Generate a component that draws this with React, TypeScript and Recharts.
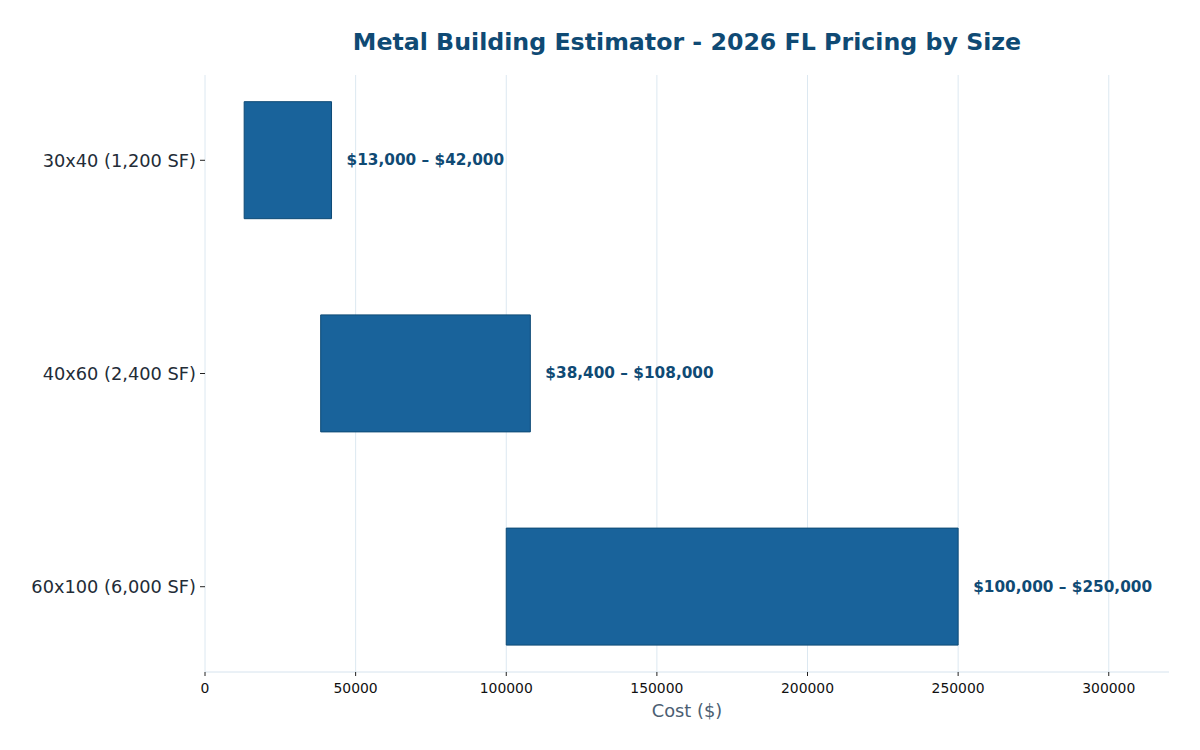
import React from "react";
import {
  BarChart,
  Bar,
  XAxis,
  YAxis,
  CartesianGrid,
  LabelList,
} from "recharts";

// Building sizes and their estimated cost ranges (USD)
const sizes = ["30x40 (1,200 SF)", "40x60 (2,400 SF)", "60x100 (6,000 SF)"];
const lowCost = [13000, 38400, 100000];
const highCost = [42000, 108000, 250000];
const costTicks = [0, 50000, 100000, 150000, 200000, 250000, 300000];

const money = (v: number) => "$" + v.toLocaleString("en-US");

const data = sizes.map((name, i) => ({
  idx: i,
  name,
  range: [lowCost[i], highCost[i]],
  label: `${money(lowCost[i])} – ${money(highCost[i])}`,
}));

const FONT = "'DejaVu Sans', sans-serif";
const NAVY = "#0f4a74";

const RangeLabel = (props: any) => {
  const { x, y, width, height, value } = props;
  return (
    <text
      x={Number(x) + Number(width) + 15}
      y={Number(y) + Number(height) / 2}
      dominantBaseline="central"
      fontFamily={FONT}
      fontWeight="bold"
      fontSize={15.3}
      fill={NAVY}
    >
      {value}
    </text>
  );
};

// vertical grid lines only at the labelled cost ticks
const gridAtTicks = (props: any) => {
  const scale = props?.xAxis?.scale;
  if (typeof scale === "function") return costTicks.map((t) => scale(t));
  if (scale && typeof scale.map === "function") return costTicks.map((t) => scale.map(t));
  return [];
};

export default function App() {
  return (
    <div
      style={{
        position: "absolute",
        left: 0,
        top: 0,
        width: 1200,
        height: 750,
        background: "#ffffff",
        fontFamily: FONT,
      }}
    >
      <div
        style={{
          position: "absolute",
          left: 205,
          width: 964,
          top: 26,
          textAlign: "center",
          fontSize: 23.7,
          fontWeight: "bold",
          color: NAVY,
          lineHeight: "32px",
        }}
      >
        Metal Building Estimator - 2026 FL Pricing by Size
      </div>
      <BarChart
        width={1200}
        height={750}
        layout="vertical"
        data={data}
        margin={{ top: 75, right: 31, bottom: 0, left: 0 }}
      >
        <CartesianGrid
          horizontal={false}
          stroke="#dce8f1"
          strokeWidth={1}
          verticalCoordinatesGenerator={gridAtTicks}
        />
        <XAxis
          type="number"
          domain={[0, 320000]}
          ticks={costTicks}
          allowDataOverflow
          height={78}
          axisLine={{ stroke: "#d6e3ee" }}
          tickLine={{ stroke: "#222222" }}
          tickSize={4}
          tickMargin={7}
          tick={{ fontSize: 13.9, fill: "#111111", fontFamily: FONT }}
          label={{
            value: "Cost ($)",
            position: "insideBottom",
            offset: 33,
            fontSize: 17.8,
            fill: "#4b5e72",
            fontFamily: FONT,
          }}
        />
        <YAxis
          type="number"
          dataKey="idx"
          domain={[-0.4, 2.4]}
          allowDataOverflow
          ticks={[0, 1, 2]}
          tickFormatter={(v: number) => sizes[v] ?? ""}
          width={205}
          axisLine={false}
          tickLine={{ stroke: "#222222" }}
          tickSize={5}
          tickMargin={4}
          tick={{ fontSize: 17.8, fill: "#232c37", fontFamily: FONT }}
        />
        <Bar
          dataKey="range"
          barSize={117}
          fill="#19639b"
          stroke="#0e4a76"
          strokeWidth={1}
          isAnimationActive={false}
        >
          <LabelList dataKey="label" content={RangeLabel} />
        </Bar>
      </BarChart>
    </div>
  );
}
